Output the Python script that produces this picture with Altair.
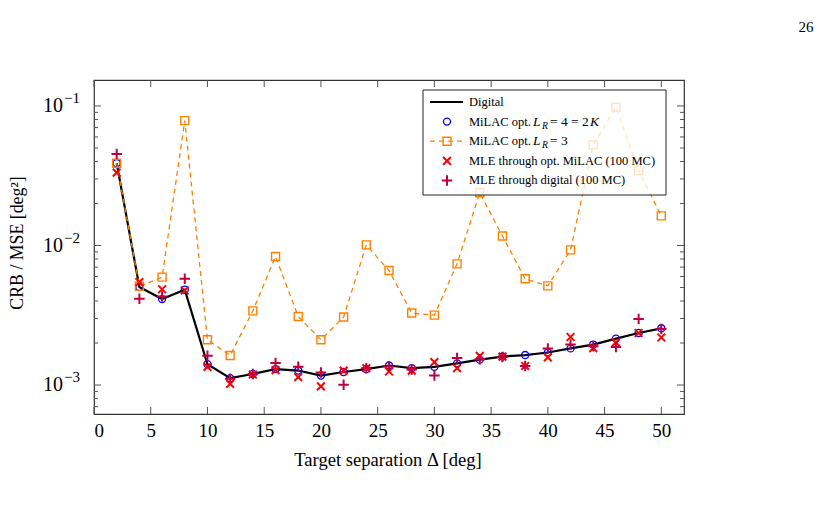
import altair as alt
import pandas as pd

# ---------------------------------------------------------------------------
# Data: CRB / MSE versus target separation
# ---------------------------------------------------------------------------
separation = list(range(2, 52, 2))

crb_digital = [0.0389, 0.00504, 0.00413, 0.00482, 0.00141, 0.00112, 0.00120,
               0.00130, 0.00127, 0.00117, 0.00124, 0.00130, 0.00138, 0.00132,
               0.00135, 0.00143, 0.00152, 0.00160, 0.00164, 0.00171, 0.00183,
               0.00195, 0.00215, 0.00236, 0.00255]

crb_milac_lr4 = [0.0389, 0.00504, 0.00413, 0.00482, 0.00141, 0.00112, 0.00120,
                 0.00130, 0.00127, 0.00117, 0.00124, 0.00130, 0.00138, 0.00132,
                 0.00135, 0.00143, 0.00152, 0.00160, 0.00164, 0.00171, 0.00183,
                 0.00195, 0.00215, 0.00236, 0.00255]

crb_milac_lr3 = [0.0389, 0.0051, 0.00593, 0.0785, 0.00211, 0.00163, 0.00340,
                 0.00834, 0.00310, 0.00211, 0.00307, 0.0101, 0.00662, 0.00328,
                 0.00317, 0.00739, 0.0239, 0.0117, 0.00577, 0.00514, 0.00931,
                 0.0526, 0.0978, 0.0344, 0.0163]

mse_mle_milac = [0.0333, 0.00546, 0.00486, 0.00476, 0.00135, 0.00102, 0.00119,
                 0.00128, 0.00114, 0.000977, 0.00127, 0.00132, 0.00125, 0.00127,
                 0.00146, 0.00132, 0.00162, 0.00160, 0.00137, 0.00158, 0.00221,
                 0.00184, 0.00202, 0.00236, 0.00219]

mse_mle_digital = [0.0453, 0.00415, 0.00431, 0.00577, 0.00162, 0.00111, 0.00120,
                   0.00144, 0.00135, 0.00123, 0.001005, 0.00132, 0.00136, 0.00129,
                   0.00117, 0.00156, 0.00153, 0.00159, 0.00137, 0.00183, 0.00195,
                   0.00190, 0.00187, 0.00297, 0.00252]

x_tick_values = list(range(0, 55, 5))
y_decades = [1e-3, 1e-2, 1e-1]
y_decade_exponents = ["\u22123", "\u22122", "\u22121"]

legend_labels = [
    "Digital",
    "MiLAC opt.",
    "MiLAC opt.",
    "MLE through opt. MiLAC (100 MC)",
    "MLE through digital (100 MC)",
]

# ---------------------------------------------------------------------------
# Styling
# ---------------------------------------------------------------------------
W, H = 590, 334
SERIF = "Liberation Serif"
ORANGE = "#ff8000"
BLUE = "#0000ff"
RED = "#ff0000"
PURPLE = "#bf0040"
TICK = "#555555"

X_SHAPE = "M-1,-1L1,1M-1,1L1,-1"
PLUS_SHAPE = "M-1,0L1,0M0,-1L0,1"

xs = alt.Scale(domain=[0, 52], nice=False, zero=False)
ys = alt.Scale(type="log", domain=[6.2e-4, 0.1535], nice=False)

x_axis = alt.Axis(values=x_tick_values, ticks=False, domain=False, grid=False,
                  labelFont=SERIF, labelFontSize=19, labelColor="black",
                  labelPadding=7, title=None, format="d")

X = alt.X("sep:Q", scale=xs, axis=x_axis)


def Y(field):
    return alt.Y(f"{field}:Q", scale=ys, axis=None)


df = pd.DataFrame({
    "sep": separation,
    "digital": crb_digital,
    "lr4": crb_milac_lr4,
    "lr3": crb_milac_lr3,
    "mle_milac": mse_mle_milac,
    "mle_digital": mse_mle_digital,
})
base = alt.Chart(df)

line_digital = base.mark_line(color="black", strokeWidth=2.2).encode(x=X, y=Y("digital"))
pts_lr4 = base.mark_point(shape="circle", color=BLUE, size=50, strokeWidth=1.3,
                          opacity=1).encode(x=X, y=Y("lr4"))
line_lr3 = base.mark_line(color=ORANGE, strokeWidth=1.3,
                          strokeDash=[5, 4]).encode(x=X, y=Y("lr3"))
pts_lr3 = base.mark_point(shape="square", color=ORANGE, size=64, strokeWidth=1.4,
                          opacity=1).encode(x=X, y=Y("lr3"))
pts_mle_milac = base.mark_point(shape=X_SHAPE, color=RED, size=60, strokeWidth=2,
                                opacity=1).encode(x=X, y=Y("mle_milac"))
pts_mle_digital = base.mark_point(shape=PLUS_SHAPE, color=PURPLE, size=110,
                                  strokeWidth=2, opacity=1).encode(x=X, y=Y("mle_digital"))

# ---------------------------------------------------------------------------
# Inward ticks on all four sides
# ---------------------------------------------------------------------------
xt = alt.Chart(pd.DataFrame({"sep": x_tick_values}))
x_ticks_bottom = xt.mark_rule(color=TICK, strokeWidth=1).encode(
    x=X, y=alt.value(H), y2=alt.value(H - 7))
x_ticks_top = xt.mark_rule(color=TICK, strokeWidth=1).encode(
    x=X, y=alt.value(0), y2=alt.value(7))

minor_vals = [m * 10.0 ** e for e in (-4, -3, -2, -1) for m in range(2, 10)
              if 6.2e-4 <= m * 10.0 ** e <= 0.1535]
ymaj = alt.Chart(pd.DataFrame({"v": y_decades}))
ymin = alt.Chart(pd.DataFrame({"v": minor_vals}))
y_major_left = ymaj.mark_rule(color=TICK, strokeWidth=1).encode(
    y=Y("v"), x=alt.value(0), x2=alt.value(7))
y_major_right = ymaj.mark_rule(color=TICK, strokeWidth=1).encode(
    y=Y("v"), x=alt.value(W - 7), x2=alt.value(W))
y_minor_left = ymin.mark_rule(color=TICK, strokeWidth=1).encode(
    y=Y("v"), x=alt.value(0), x2=alt.value(4))
y_minor_right = ymin.mark_rule(color=TICK, strokeWidth=1).encode(
    y=Y("v"), x=alt.value(W - 4), x2=alt.value(W))

# y tick labels written as powers of ten
ylab_df = pd.DataFrame({"v": y_decades, "exp": y_decade_exponents})
ylab_base = alt.Chart(ylab_df).mark_text(font=SERIF, fontSize=20, align="right",
                                         baseline="middle", color="black", text="10")
ylab_base = ylab_base.encode(y=Y("v"), x=alt.value(-31))
ylab_exp = alt.Chart(ylab_df).mark_text(font=SERIF, fontSize=15, align="left",
                                        baseline="middle", color="black", dy=-8).encode(
    y=Y("v"), x=alt.value(-30), text="exp:N")

# ---------------------------------------------------------------------------
# Axis titles and page number
# ---------------------------------------------------------------------------
x_title = alt.Chart(pd.DataFrame({"t": ["Target separation \u0394 [deg]"]})).mark_text(
    font=SERIF, fontSize=18.6, align="center", baseline="middle", color="black").encode(
    x=alt.value(294), y=alt.value(380), text="t:N")
y_title = alt.Chart(pd.DataFrame({"t": ["CRB / MSE [deg\u00b2]"]})).mark_text(
    font=SERIF, fontSize=17.8, align="center", baseline="middle", angle=270,
    color="black").encode(x=alt.value(-76), y=alt.value(163), text="t:N")
page_no = alt.Chart(pd.DataFrame({"t": ["26"]})).mark_text(
    font=SERIF, fontSize=15, align="center", baseline="middle", color="black").encode(
    x=alt.value(712), y=alt.value(-53), text="t:N")

# ---------------------------------------------------------------------------
# Legend box
# ---------------------------------------------------------------------------
LX0, LX1, LY0, LY1 = 329, 572, 10, 115
ROW0, ROW_STEP = 22, 19.6
SYM_X, TXT_X = 353, 375
rows = [ROW0 + i * ROW_STEP for i in range(5)]

legend_box = alt.Chart(pd.DataFrame({"k": [0]})).mark_rect(
    fill="white", fillOpacity=0.78, stroke="#222222", strokeWidth=1).encode(
    x=alt.value(LX0), x2=alt.value(LX1), y=alt.value(LY0), y2=alt.value(LY1))

one = alt.Chart(pd.DataFrame({"k": [0]}))
leg_parts = [legend_box]
leg_parts.append(one.mark_rule(color="black", strokeWidth=2.2).encode(
    x=alt.value(SYM_X - 17), x2=alt.value(SYM_X + 16), y=alt.value(rows[0])))
leg_parts.append(one.mark_point(shape="circle", color=BLUE, size=50, strokeWidth=1.3,
                                opacity=1).encode(x=alt.value(SYM_X), y=alt.value(rows[1])))
leg_parts.append(one.mark_rule(color=ORANGE, strokeWidth=1.3, strokeDash=[5, 4],
                               strokeDashOffset=0).encode(
    x=alt.value(SYM_X - 17), x2=alt.value(SYM_X + 16), y=alt.value(rows[2])))
leg_parts.append(one.mark_point(shape="square", color=ORANGE, size=64, strokeWidth=1.4,
                                filled=False, opacity=1).encode(
    x=alt.value(SYM_X), y=alt.value(rows[2])))
leg_parts.append(one.mark_point(shape=X_SHAPE, color=RED, size=60, strokeWidth=2,
                                opacity=1).encode(x=alt.value(SYM_X), y=alt.value(rows[3])))
leg_parts.append(one.mark_point(shape=PLUS_SHAPE, color=PURPLE, size=110, strokeWidth=2,
                                opacity=1).encode(x=alt.value(SYM_X), y=alt.value(rows[4])))

LEG_FS = 12.5
MATH_FS = 13.5
for label, ry in zip(legend_labels, rows):
    leg_parts.append(alt.Chart(pd.DataFrame({"t": [label]})).mark_text(
        font=SERIF, fontSize=LEG_FS, align="left", baseline="middle",
        color="black").encode(x=alt.value(TXT_X), y=alt.value(ry), text="t:N"))


def math_label(x0, ry, pieces):
    """Draw a run of (text, italic, subscript, advance) pieces starting at x0."""
    marks = []
    x = x0
    for txt, italic, sub, width in pieces:
        fs = MATH_FS * (0.72 if sub else 1.0)
        marks.append(alt.Chart(pd.DataFrame({"t": [txt]})).mark_text(
            font=SERIF, fontSize=fs, fontStyle="italic" if italic else "normal",
            align="left", baseline="middle", color="black",
            dy=4 if sub else 0).encode(x=alt.value(x), y=alt.value(ry), text="t:N"))
        x += width
    return marks


MATH_X = TXT_X + 64
leg_parts += math_label(MATH_X, rows[1], [("L", True, False, 9), ("R", True, True, 8),
                                          ("= 4 = 2", False, False, 40),
                                          ("K", True, False, 10)])
leg_parts += math_label(MATH_X, rows[2], [("L", True, False, 9), ("R", True, True, 8),
                                          ("= 3", False, False, 20)])

# ---------------------------------------------------------------------------
# Assemble
# ---------------------------------------------------------------------------
chart = alt.layer(
    x_ticks_bottom, x_ticks_top, y_major_left, y_major_right, y_minor_left, y_minor_right,
    line_digital, pts_lr4, line_lr3, pts_lr3, pts_mle_milac, pts_mle_digital,
    ylab_base, ylab_exp, x_title, y_title, page_no,
    *leg_parts,
).properties(
    width=W, height=H,
    autosize=alt.AutoSizeParams(type="none"),
    padding={"left": 94, "top": 80, "right": 820 - 94 - W, "bottom": 514 - 80 - H},
    background="white",
).configure_view(stroke="#333333", strokeWidth=1.2)

chart.save("out.html", embed_options={"renderer": "svg", "actions": False})
